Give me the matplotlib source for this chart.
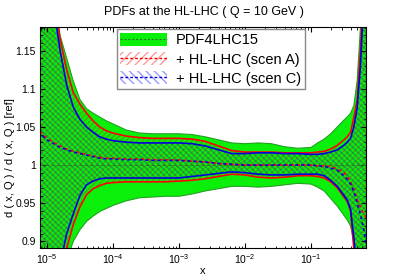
import matplotlib
matplotlib.use("Agg")
import matplotlib.pyplot as plt
import numpy as np
from matplotlib.patches import Patch
from matplotlib.lines import Line2D
from matplotlib.ticker import LogLocator, MultipleLocator, NullFormatter

plt.rcParams['font.family'] = ['Liberation Sans', 'DejaVu Sans']
plt.rcParams['hatch.linewidth'] = 1.0

# log10(x) sampling points
logx = [-5.1, -5.0, -4.9, -4.8, -4.7, -4.6, -4.5, -4.4, -4.3, -4.2, -4.1, -4.0,
        -3.8, -3.6, -3.4, -3.2, -3.0, -2.8, -2.6, -2.4, -2.2, -2.0, -1.8, -1.6,
        -1.4, -1.2, -1.0, -0.9, -0.8, -0.7, -0.6, -0.5, -0.45, -0.4, -0.35, -0.3,
        -0.25, -0.2, -0.15]

# PDF4LHC15 band
pdf_up = [1.40, 1.30, 1.22, 1.17, 1.14, 1.11, 1.086, 1.074, 1.068, 1.063, 1.058, 1.054,
          1.046, 1.042, 1.041, 1.041, 1.041, 1.040, 1.037, 1.033, 1.029, 1.028, 1.029, 1.028,
          1.024, 1.022, 1.023, 1.029, 1.034, 1.041, 1.050, 1.059, 1.063, 1.068, 1.078, 1.11,
          1.18, 1.28, 1.40]
pdf_lo = [0.60, 0.70, 0.78, 0.84, 0.875, 0.900, 0.915, 0.926, 0.933, 0.939, 0.943, 0.947,
          0.953, 0.957, 0.958, 0.959, 0.959, 0.962, 0.966, 0.969, 0.972, 0.972, 0.971, 0.972,
          0.974, 0.976, 0.975, 0.971, 0.966, 0.956, 0.946, 0.934, 0.928, 0.920, 0.900, 0.86,
          0.80, 0.72, 0.60]

# HL-LHC scenario A
a_up = [1.45, 1.32, 1.23, 1.165, 1.125, 1.095, 1.080, 1.068, 1.058, 1.050, 1.045, 1.042,
        1.038, 1.036, 1.035, 1.035, 1.035, 1.034, 1.031, 1.025, 1.019, 1.017, 1.017, 1.017,
        1.016, 1.016, 1.016, 1.017, 1.018, 1.021, 1.026, 1.033, 1.037, 1.043, 1.062, 1.085,
        1.15, 1.24, 1.38]
a_lo = [0.55, 0.68, 0.78, 0.85, 0.891, 0.922, 0.945, 0.961, 0.969, 0.973, 0.976, 0.977,
        0.978, 0.978, 0.978, 0.978, 0.979, 0.980, 0.982, 0.985, 0.988, 0.987, 0.984, 0.983,
        0.984, 0.986, 0.986, 0.985, 0.983, 0.978, 0.970, 0.958, 0.952, 0.940, 0.89, 0.83,
        0.75, 0.65, 0.55]
a_cv = [1.044, 1.035, 1.030, 1.025, 1.021, 1.018, 1.016, 1.014, 1.012, 1.010, 1.009, 1.009,
        1.008, 1.008, 1.007, 1.007, 1.0066, 1.005, 1.004, 1.002, 1.001, 1.000, 1.000, 1.000,
        1.000, 1.000, 1.000, 0.999, 0.999, 0.998, 0.995, 0.990, 0.985, 0.978, 0.968, 0.955,
        0.945, 0.935, 0.930]

# HL-LHC scenario C
c_up = [1.42, 1.30, 1.21, 1.15, 1.105, 1.076, 1.060, 1.050, 1.043, 1.037, 1.034, 1.032,
        1.030, 1.029, 1.029, 1.029, 1.029, 1.028, 1.025, 1.020, 1.015, 1.015, 1.016, 1.016,
        1.015, 1.015, 1.014, 1.014, 1.015, 1.017, 1.020, 1.026, 1.030, 1.035, 1.050, 1.075,
        1.13, 1.22, 1.35]
c_lo = [0.58, 0.70, 0.80, 0.87, 0.91, 0.936, 0.960, 0.974, 0.979, 0.982, 0.983, 0.983,
        0.983, 0.983, 0.983, 0.983, 0.983, 0.985, 0.987, 0.989, 0.991, 0.990, 0.988, 0.987,
        0.987, 0.988, 0.988, 0.988, 0.986, 0.980, 0.972, 0.960, 0.954, 0.942, 0.905, 0.86,
        0.78, 0.68, 0.58]
c_cv = [1.041, 1.033, 1.028, 1.023, 1.020, 1.017, 1.015, 1.013, 1.011, 1.009, 1.008, 1.008,
        1.007, 1.007, 1.006, 1.006, 1.006, 1.005, 1.004, 1.002, 1.001, 1.000, 1.000, 1.000,
        1.000, 1.000, 1.000, 0.999, 0.998, 0.996, 0.993, 0.986, 0.981, 0.975, 0.965, 0.950,
        0.935, 0.915, 0.890]

labels = ['PDF4LHC15', '+ HL-LHC (scen A)', '+ HL-LHC (scen C)']

x = 10.0 ** np.array(logx)
green = '#0bf00b'
red_h = (0.9, 0, 0, 0.28)
blue_h = (0, 0, 0.9, 0.28)

fig = plt.figure(figsize=(4.07, 2.76), dpi=100)
ax = fig.add_axes([0.098, 0.101, 0.801, 0.801])

# reference band
ax.fill_between(x, pdf_lo, pdf_up, facecolor=green, edgecolor='none', lw=0)
ax.plot(x, pdf_up, color='#22a022', lw=0.8)
ax.plot(x, pdf_lo, color='#22a022', lw=0.8)
ax.axhline(1.0, color='#2a7a2a', lw=0.8, ls=(0, (3, 2)))

# hatched HL-LHC bands
ax.fill_between(x, a_lo, a_up, facecolor='none', edgecolor=red_h, hatch='//////', lw=0)
ax.fill_between(x, c_lo, c_up, facecolor='none', edgecolor=blue_h, hatch='\\\\\\\\\\\\', lw=0)
ax.plot(x, a_up, color='red', lw=1.2)
ax.plot(x, a_lo, color='red', lw=1.2)
ax.plot(x, c_up, color='#0000dd', lw=1.2)
ax.plot(x, c_lo, color='#0000dd', lw=1.2)
ax.plot(x, a_cv, color='red', lw=1.2, ls=(0, (1.8, 1.8)))
ax.plot(x, c_cv, color='#0000dd', lw=1.2, ls=(1.8, (1.8, 1.8)))

ax.set_xscale('log')
ax.set_xlim(7.83e-6, 0.68)
ax.set_ylim(0.891, 1.181)
ax.yaxis.set_minor_locator(MultipleLocator(0.01))
ax.set_yticks([0.9, 0.95, 1.0, 1.05, 1.1, 1.15])
ax.set_yticklabels(['0.9', '0.95', '1', '1.05', '1.1', '1.15'])
ax.xaxis.set_major_locator(LogLocator(base=10))
ax.xaxis.set_minor_locator(LogLocator(base=10, subs=np.arange(2, 10)))
ax.xaxis.set_minor_formatter(NullFormatter())
ax.tick_params(which='both', direction='in', top=True, right=True, labelsize=7.5, pad=3)
ax.tick_params(which='major', length=3.5, width=0.8)
ax.tick_params(which='minor', length=1.8, width=0.6)

ax.set_xlabel('x', fontsize=8, labelpad=0)
ax.set_ylabel('d ( x, Q ) / d ( x, Q ) [ref]', fontsize=8, labelpad=6)
ax.yaxis.set_label_coords(-0.075, 0.41)
fig.text(0.5, 0.955, 'PDFs at the HL-LHC ( Q = 10 GeV )', ha='center', va='center', fontsize=9)

handles = [
    (Patch(facecolor=green, edgecolor='none'),
     Line2D([], [], color='#2a7a2a', lw=0.8, ls=(0, (2, 1.5)))),
    (Patch(facecolor='white', edgecolor=(1, 0, 0, 0.4), hatch='////', lw=0),
     Line2D([], [], color='red', lw=1.0, ls=(0, (2, 1.5)))),
    (Patch(facecolor='white', edgecolor=(0, 0, 1, 0.4), hatch='\\\\\\\\', lw=0),
     Line2D([], [], color='#0000dd', lw=1.0, ls=(0, (2, 1.5)))),
]
leg = ax.legend(handles, labels, loc='upper left', bbox_to_anchor=(0.236, 0.99),
                fontsize=10.5, frameon=True, fancybox=False, framealpha=1,
                edgecolor='#888888', handlelength=3.2, handleheight=1.0,
                labelspacing=0.32, borderpad=0.25, handletextpad=0.6,
                borderaxespad=0)
leg.get_frame().set_linewidth(1.0)

fig.savefig('out.png', dpi=100)
